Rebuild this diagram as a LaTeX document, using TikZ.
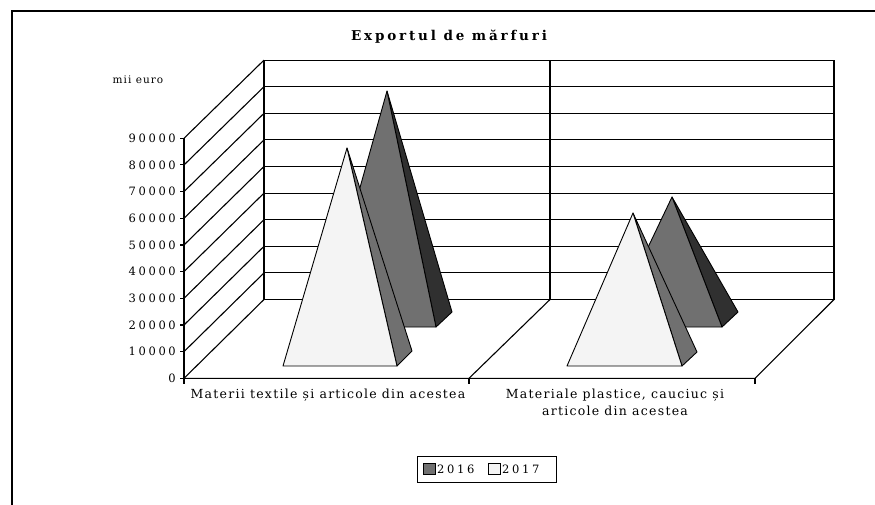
\documentclass[tikz,border=0pt]{standalone}
\usepackage{fontspec}
\usepackage{xcolor}
\newfontfamily\chartfont[LetterSpace=10]{DejaVu Serif}
\newfontfamily\tickfont[LetterSpace=23]{DejaVu Serif}
\newfontfamily\headfont[LetterSpace=21]{DejaVu Serif}
\definecolor{frontA}{HTML}{707070}
\definecolor{sideA}{HTML}{303030}
\definecolor{frontB}{HTML}{F4F4F4}
\tikzstyle{wall} = [line width=1.1pt, black]
\tikzstyle{face} = [draw=black, line width=0.9pt, line join=round]
\tikzstyle{ticklbl} = [anchor=east, inner sep=0pt, font=\tickfont\fontsize{11.5}{13}\selectfont]
\tikzstyle{catlbl} = [anchor=north, inner sep=0pt, align=center,
                      font=\chartfont\fontsize{12.5}{17}\selectfont]

\begin{document}
\begin{tikzpicture}[x=1pt,y=-1pt]
 \useasboundingbox (0,0) rectangle (875,504);
 \clip (0,0) rectangle (875,504);
 % outer frame
 \draw [line width=1.2pt] (12,520) -- (12,11) -- (890,11);
 \node (title) at (449,37) {\headfont\bfseries\fontsize{13.5}{15}\selectfont Exportul de mărfuri};
 \node (unit) at (138,80) {\chartfont\fontsize{10.5}{12}\selectfont mii euro};
 % back wall and side wall
 \foreach \k in {0,...,9} {
   \pgfmathsetmacro{\yb}{299.5-26.6*\k}
   \pgfmathsetmacro{\yf}{378.3-26.67*\k}
   \draw [wall] (264,\yb) -- (834,\yb);
   \draw [wall] (184,\yf) -- (264,\yb);
   \draw [wall] (180,\yf) -- (184,\yf);
   \node (tick\k) [ticklbl] at (176,\yf) {\ifnum\k=0 0\else\k0000\fi};
 }
 \draw [wall] (264,60) -- (264,299.5);
 \draw [wall] (550,60) -- (550,299.5);
 \draw [wall] (834,60) -- (834,299.5);
 \draw [wall] (184,138.3) -- (184,384);
 % floor
 \draw [wall] (184,378.3) -- (755,378.3) -- (834,299.5);
 \draw [wall] (469,378.3) -- (550,299.5);
 \draw [wall] (469,378.3) -- (469,384);
 \draw [wall] (755,378.3) -- (755,384);
 % pyramids, first category
 \filldraw [face,fill=sideA] (387,91) -- (436,327) -- (452,312) -- cycle;
 \filldraw [face,fill=frontA] (387,91) -- (321,327) -- (436,327) -- cycle;
 \filldraw [face,fill=frontA] (347,148) -- (397,366) -- (412,351) -- cycle;
 \filldraw [face,fill=frontB] (347,148) -- (283,366) -- (397,366) -- cycle;
 % pyramids, second category
 \filldraw [face,fill=sideA] (672,197) -- (722,327) -- (738,312) -- cycle;
 \filldraw [face,fill=frontA] (672,197) -- (610,327) -- (722,327) -- cycle;
 \filldraw [face,fill=frontA] (633,213) -- (682,366) -- (697,352) -- cycle;
 \filldraw [face,fill=frontB] (633,213) -- (567,366) -- (682,366) -- cycle;
 % category labels
 \node (catA) [catlbl] at (328,389) {Materii textile și articole din acestea};
 \node (catB) [catlbl] at (615,389) {Materiale plastice, cauciuc și\\articole din acestea};
 % legend
 \draw [line width=0.9pt] (417,456) rectangle (556,482);
 \filldraw [line width=0.7pt,fill=frontA] (423,463) rectangle (435,474);
 \node (leg16) [anchor=west,inner sep=0pt,font=\tickfont\fontsize{11.5}{13}\selectfont] at (437,469) {2016};
 \filldraw [line width=0.7pt,fill=frontB] (488,463) rectangle (500,474);
 \node (leg17) [anchor=west,inner sep=0pt,font=\tickfont\fontsize{11.5}{13}\selectfont] at (502,469) {2017};
\end{tikzpicture}
\end{document}
